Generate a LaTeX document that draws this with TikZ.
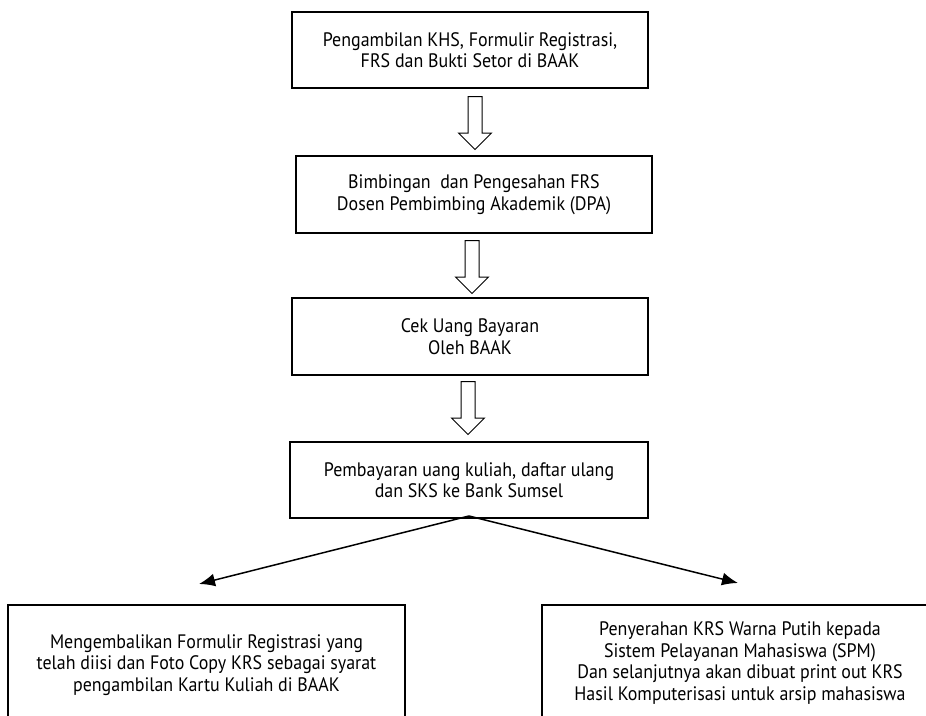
\documentclass[tikz,border=0pt]{standalone}
\usepackage{fontspec}
\setmainfont{PT Sans}[FakeStretch=0.92]
\usetikzlibrary{arrows.meta,shapes.arrows}
\begin{document}
\begin{tikzpicture}[x=1pt,y=-1pt,>={Latex[length=16pt,width=13pt]},line join=miter,
font=\fontsize{19.5}{21.5}\selectfont,
kotak/.style={draw,line width=1.3pt,align=center,inner sep=0pt},
panah/.style={draw,line width=1pt,single arrow,rotate=-90,minimum height=53pt,
  single arrow head extend=9.5pt,text height=0pt,text depth=0pt,inner xsep=0pt,inner ysep=6.5pt}]
\useasboundingbox (0,0) rectangle (926,715);
\clip (0,0) rectangle (926,715);
\node[kotak,minimum width=356pt,minimum height=76pt] (k1) at (470,50)
{Pengambilan KHS, Formulir Registrasi,\\FRS dan Bukti Setor di BAAK};
\node[kotak,minimum width=356pt,minimum height=77pt] (k2) at (474,194.5)
{Bimbingan~ dan Pengesahan FRS\\Dosen Pembimbing Akademik (DPA)};
\node[kotak,minimum width=356pt,minimum height=77pt] (k3) at (470,336.5)
{Cek Uang Bayaran\\Oleh BAAK};
\node[kotak,minimum width=358pt,minimum height=76pt] (k4) at (469,480)
{Pembayaran uang kuliah, daftar ulang\\dan SKS ke Bank Sumsel};
\node[kotak,minimum width=397pt,minimum height=120pt] (k5) at (206.5,665)
{Mengembalikan Formulir Registrasi yang\\telah diisi dan Foto Copy KRS sebagai syarat\\pengambilan Kartu Kuliah di BAAK};
\node[kotak,minimum width=396pt,minimum height=116pt] (k6) at (740,663)
{Penyerahan KRS Warna Putih kepada\\Sistem Pelayanan Mahasiswa (SPM)\\Dan selanjutnya akan dibuat print out KRS\\Hasil Komputerisasi untuk arsip mahasiswa};
% panah blok
\node[panah] (p1) at (475,119.5) {};
\node[panah] (p2) at (472,263.5) {};
\node[panah] (p3) at (468,404.5) {};
% cabang
\coordinate (c) at (469,516);
\coordinate (t1) at (199,584);
\coordinate (t2) at (738,583);
\draw[->,line width=1.5pt] (c)--(t1);
\draw[->,line width=1.5pt] (c)--(t2);
\end{tikzpicture}
\end{document}
